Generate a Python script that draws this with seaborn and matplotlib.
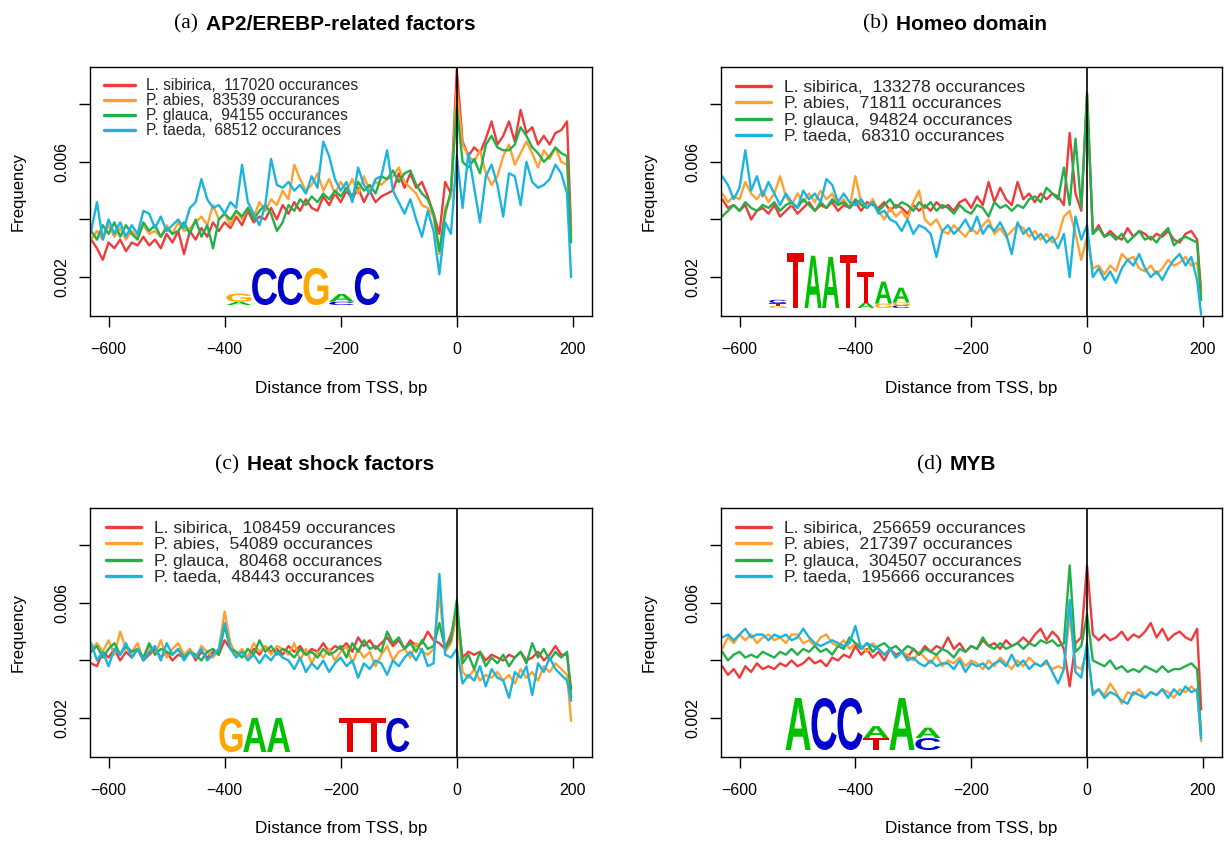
import matplotlib
matplotlib.use("Agg")
import numpy as np
import pandas as pd
import seaborn as sns
import matplotlib.pyplot as plt
from matplotlib.lines import Line2D
from matplotlib.textpath import TextPath
from matplotlib.font_manager import FontProperties
from matplotlib.patches import PathPatch
from matplotlib.transforms import Affine2D

# ---------------- data (frequencies in thousandths, i.e. value * 1e-3) ----------------
POS = [-630, -620, -610, -600, -590, -580, -570, -560, -550, -540,
       -530, -520, -510, -500, -490, -480, -470, -460, -450, -440,
       -430, -420, -410, -400, -390, -380, -370, -360, -350, -340,
       -330, -320, -310, -300, -290, -280, -270, -260, -250, -240,
       -230, -220, -210, -200, -190, -180, -170, -160, -150, -140,
       -130, -120, -110, -100, -90, -80, -70, -60, -50, -40,
       -30, -20, -10, 0, 10, 20, 30, 40, 50, 60,
       70, 80, 90, 100, 110, 120, 130, 140, 150, 160,
       170, 180, 190, 197]

SPECIES = ["L. sibirica", "P. abies", "P. glauca", "P. taeda"]

# (a) AP2/EREBP-related factors
A_LS = [3.3, 3.0, 2.6, 3.2, 3.0, 3.3, 2.9, 3.2, 3.1, 3.4,
        3.1, 3.3, 3.0, 3.5, 3.2, 3.6, 2.8, 3.6, 3.3, 3.7,
        3.4, 3.9, 3.6, 3.9, 3.7, 4.1, 3.8, 4.3, 3.9, 4.1,
        4.0, 4.4, 4.0, 4.5, 4.2, 4.6, 4.3, 4.7, 4.4, 4.3,
        4.8, 4.5, 4.9, 4.6, 5.0, 4.7, 5.1, 4.6, 5.0, 4.6,
        4.8, 4.9, 5.0, 5.6, 5.1, 5.6, 5.1, 5.3, 4.8, 4.2,
        3.5, 5.3, 4.9, 9.2, 6.7, 6.2, 6.5, 6.3, 6.8, 7.4,
        6.6, 6.9, 7.4, 6.7, 7.8, 7.0, 7.2, 6.6, 6.9, 6.6,
        7.0, 7.1, 7.4, 3.6]
A_PA = [3.3, 3.6, 3.3, 3.8, 3.4, 3.7, 3.3, 3.6, 3.4, 3.8,
        3.5, 3.6, 3.4, 3.8, 3.5, 3.9, 3.6, 3.7, 3.9, 4.1,
        3.8, 4.5, 4.0, 4.2, 3.8, 4.3, 4.0, 4.4, 4.1, 4.6,
        4.3, 4.7, 4.5, 5.0, 4.7, 5.9, 5.4, 5.0, 5.2, 5.6,
        5.0, 5.4, 4.9, 5.3, 5.0, 5.4, 4.9, 5.5, 5.0, 5.3,
        5.2, 5.4, 5.5, 5.8, 5.3, 5.1, 4.9, 4.5, 4.4, 4.1,
        2.8, 4.4, 4.8, 8.5, 6.6, 6.2, 6.0, 6.4, 5.6, 5.2,
        5.5, 6.2, 6.6, 5.9, 6.3, 6.7, 6.3, 5.8, 6.4, 6.1,
        6.5, 6.0, 5.9, 3.4]
A_PG = [3.6, 3.3, 3.8, 3.5, 3.9, 3.4, 3.8, 3.5, 3.3, 3.9,
        3.6, 3.8, 3.4, 3.7, 3.5, 3.6, 3.9, 3.5, 4.0, 3.4,
        3.8, 3.0, 4.0, 4.2, 4.0, 4.3, 4.1, 4.4, 4.0, 4.3,
        4.5, 4.2, 3.6, 3.9, 4.5, 4.3, 4.7, 4.5, 4.8, 4.6,
        4.9, 4.7, 5.0, 4.8, 5.1, 4.8, 5.3, 5.0, 5.2, 4.9,
        5.5, 5.4, 5.7, 5.3, 5.6, 5.7, 5.2, 4.9, 4.7, 4.2,
        2.9, 4.2, 5.0, 7.9, 6.0, 5.8, 6.1, 5.6, 6.6, 6.9,
        6.5, 6.4, 6.4, 6.6, 7.2, 6.9, 6.5, 6.3, 6.0, 6.2,
        6.5, 6.3, 6.2, 3.2]
A_PT = [3.6, 4.6, 3.3, 4.0, 3.5, 3.9, 3.4, 3.8, 3.5, 4.3,
        4.2, 3.7, 4.1, 3.6, 3.8, 4.0, 3.7, 4.4, 4.6, 5.4,
        4.7, 4.4, 4.5, 4.2, 4.6, 4.4, 5.9, 4.6, 4.2, 3.8,
        4.5, 6.1, 5.2, 5.1, 5.3, 5.0, 5.2, 4.9, 5.5, 5.1,
        6.7, 6.2, 5.4, 5.0, 5.3, 4.6, 5.8, 5.2, 4.9, 5.4,
        5.5, 6.4, 5.0, 4.6, 4.2, 4.7, 4.0, 3.4, 4.3, 3.6,
        2.1, 3.9, 3.5, 6.2, 4.4, 6.3, 5.1, 3.9, 5.5, 5.9,
        5.2, 4.1, 5.6, 5.5, 4.5, 6.0, 5.3, 5.1, 5.2, 5.4,
        5.9, 5.6, 4.9, 2.0]

# (b) Homeo domain
B_LS = [4.7, 4.4, 4.5, 4.3, 4.5, 4.0, 4.3, 4.4, 4.2, 4.5,
        4.1, 4.3, 4.5, 4.2, 4.4, 4.6, 4.3, 4.5, 4.4, 4.6,
        4.3, 4.5, 4.4, 4.6, 4.3, 4.6, 4.5, 4.4, 4.6, 4.3,
        4.5, 4.4, 4.2, 4.5, 4.3, 4.5, 4.3, 4.6, 4.4, 4.5,
        4.3, 4.6, 4.7, 4.4, 4.8, 4.5, 5.3, 4.6, 5.1, 4.7,
        4.5, 5.3, 4.7, 4.9, 4.6, 4.9, 4.7, 4.9, 4.8, 4.5,
        7.0, 4.9, 4.3, 8.4, 3.5, 3.8, 3.4, 3.6, 3.4, 3.3,
        3.7, 3.4, 3.6, 3.5, 3.3, 3.5, 3.4, 3.6, 3.3, 3.2,
        3.5, 3.6, 3.3, 1.5]
B_PA = [4.9, 4.6, 4.8, 4.7, 5.3, 4.9, 4.7, 5.0, 4.6, 4.9,
        5.5, 4.8, 4.5, 4.9, 4.6, 4.9, 4.6, 5.0, 4.7, 4.9,
        4.5, 4.7, 4.4, 5.5, 4.6, 4.4, 4.7, 4.3, 4.0, 4.4,
        4.1, 4.3, 4.0, 4.6, 5.0, 4.0, 3.8, 4.0, 3.6, 3.5,
        3.8, 3.6, 3.4, 3.7, 3.5, 3.8, 4.0, 3.5, 3.7, 3.4,
        3.6, 3.8, 3.7, 3.4, 3.6, 3.3, 3.5, 3.2, 3.4, 4.1,
        4.3, 3.5, 2.6, 3.4, 2.3, 2.4, 2.1, 2.4, 2.2, 2.8,
        2.6, 2.7, 2.3, 2.2, 2.4, 2.1, 2.3, 2.6, 2.4, 2.5,
        2.7, 2.4, 2.5, 1.4]
B_PG = [4.1, 4.3, 4.5, 4.3, 4.6, 4.4, 4.3, 4.5, 4.4, 4.6,
        4.3, 4.5, 4.6, 4.4, 4.7, 4.5, 4.3, 4.6, 4.4, 4.7,
        4.5, 4.6, 4.4, 4.7, 4.5, 4.4, 4.6, 4.3, 4.5, 4.7,
        4.4, 4.6, 4.5, 4.3, 4.6, 4.4, 4.6, 4.3, 4.5, 4.4,
        4.2, 4.5, 4.3, 4.2, 4.5, 4.4, 4.1, 4.6, 4.4, 4.5,
        4.3, 4.5, 4.4, 4.7, 4.8, 4.6, 5.1, 4.9, 4.7, 5.8,
        4.5, 6.8, 4.4, 8.3, 3.5, 3.7, 3.4, 3.5, 3.3, 3.5,
        3.2, 3.4, 3.6, 3.3, 3.4, 3.2, 3.5, 3.7, 3.1, 3.3,
        3.4, 3.3, 3.2, 1.2]
B_PT = [5.5, 5.2, 4.7, 5.1, 6.4, 5.0, 5.5, 4.8, 5.3, 4.9,
        4.5, 4.9, 4.6, 4.4, 5.0, 4.7, 4.9, 4.6, 5.4, 5.2,
        4.6, 4.9, 4.6, 4.5, 4.7, 4.4, 4.6, 4.2, 4.3, 4.0,
        3.9, 3.6, 4.0, 3.5, 3.8, 3.7, 3.5, 2.7, 3.6, 3.8,
        3.5, 3.7, 4.0, 3.6, 4.1, 3.5, 3.8, 3.6, 3.9, 3.5,
        2.8, 3.9, 3.5, 3.7, 3.3, 3.5, 3.2, 3.4, 3.0, 3.5,
        2.0, 4.1, 3.3, 3.8, 2.0, 2.3, 1.9, 2.2, 1.8, 2.3,
        2.6, 2.4, 2.8, 2.3, 2.0, 2.2, 1.9, 2.3, 2.6, 2.8,
        2.4, 2.7, 1.9, 0.7]

# (c) Heat shock factors
C_LS = [3.9, 3.8, 4.3, 4.1, 4.4, 4.0, 4.3, 4.1, 4.4, 4.0,
        4.2, 4.4, 4.1, 4.3, 4.0, 4.2, 4.1, 4.4, 4.0, 4.3,
        4.1, 4.3, 4.2, 4.7, 4.4, 4.2, 4.3, 4.1, 4.4, 4.2,
        4.5, 4.3, 4.4, 4.2, 4.5, 4.3, 4.5, 4.2, 4.4, 4.3,
        4.6, 4.3, 4.5, 4.4, 4.6, 4.3, 4.8, 4.5, 4.7, 4.4,
        4.6, 4.8, 4.5, 4.7, 4.4, 4.7, 4.5, 4.6, 5.0, 4.7,
        4.6, 4.4, 4.9, 5.7, 4.1, 4.3, 4.2, 4.3, 4.0, 4.2,
        4.1, 4.0, 4.2, 4.1, 4.3, 4.0, 4.1, 4.3, 4.0, 4.2,
        4.5, 4.2, 4.2, 3.0]
C_PA = [4.4, 4.6, 4.3, 4.7, 4.2, 5.0, 4.4, 4.3, 4.6, 4.0,
        4.5, 4.2, 4.7, 4.1, 4.4, 4.6, 4.2, 4.4, 4.1, 4.5,
        4.3, 4.1, 4.4, 5.7, 4.6, 4.2, 4.4, 4.1, 4.6, 4.3,
        4.5, 4.2, 4.5, 4.4, 4.2, 4.6, 4.0, 4.4, 3.9, 4.3,
        4.1, 4.4, 4.0, 4.3, 4.5, 3.9, 4.4, 4.1, 4.3, 3.8,
        4.2, 4.5, 4.0, 4.3, 4.4, 4.1, 4.6, 4.3, 4.2, 4.4,
        6.3, 4.3, 4.6, 5.6, 3.6, 3.4, 3.7, 3.3, 3.5, 3.4,
        3.6, 3.3, 3.5, 3.2, 3.7, 3.4, 3.6, 3.3, 3.8, 3.6,
        3.9, 3.7, 3.5, 1.9]
C_PG = [4.3, 4.5, 4.1, 4.4, 4.6, 4.2, 4.5, 4.3, 4.4, 4.1,
        4.6, 4.2, 4.4, 4.3, 4.2, 4.4, 4.1, 4.3, 4.2, 4.0,
        4.3, 4.4, 4.2, 5.2, 4.4, 4.3, 4.1, 4.4, 4.2, 4.7,
        4.3, 4.5, 4.2, 4.4, 4.3, 4.1, 4.4, 4.2, 4.3, 4.1,
        4.4, 4.2, 4.3, 4.5, 4.1, 4.6, 4.3, 4.7, 4.4, 4.5,
        4.3, 5.0, 4.6, 4.8, 4.4, 4.6, 4.3, 4.7, 4.4, 4.5,
        5.3, 4.4, 4.7, 6.1, 3.9, 4.2, 3.7, 4.3, 3.8, 4.1,
        3.9, 4.2, 3.8, 4.1, 4.3, 3.9, 4.6, 4.1, 4.4, 4.0,
        4.3, 4.1, 4.3, 2.7]
C_PT = [4.6, 4.0, 4.3, 3.8, 4.4, 4.2, 4.6, 4.1, 4.4, 4.0,
        4.3, 4.5, 4.0, 4.6, 4.2, 4.4, 4.0, 4.3, 4.1, 4.4,
        4.0, 4.2, 4.4, 5.3, 4.4, 4.1, 4.3, 4.0, 4.2, 3.9,
        4.2, 4.0, 4.3, 4.1, 4.0, 3.7, 4.1, 3.6, 3.9, 3.7,
        4.0, 3.6, 3.9, 4.1, 3.8, 4.0, 3.4, 3.9, 3.7, 4.0,
        3.9, 3.5, 4.0, 3.8, 4.1, 4.3, 4.0, 4.4, 3.8, 3.9,
        7.0, 4.2, 4.1, 4.4, 3.2, 3.5, 3.3, 3.8, 3.1, 3.7,
        3.4, 3.3, 2.7, 3.6, 3.4, 3.8, 2.8, 3.9, 3.6, 4.1,
        3.7, 3.5, 3.3, 2.6]

# (d) MYB
D_LS = [3.8, 3.5, 3.7, 3.4, 3.8, 3.6, 3.9, 3.7, 3.8, 3.7,
        3.9, 3.8, 4.0, 3.8, 3.9, 4.1, 3.9, 4.0, 3.8, 4.1,
        4.0, 4.2, 4.1, 4.5, 4.2, 4.4, 4.1, 4.3, 4.0, 4.4,
        4.2, 4.3, 4.1, 4.4, 4.2, 4.5, 4.3, 4.5, 4.4, 4.8,
        4.4, 4.6, 4.3, 4.5, 4.4, 4.7, 4.5, 4.6, 4.4, 4.7,
        4.5, 4.6, 4.8, 4.6, 4.9, 5.1, 4.7, 5.0, 4.8, 4.4,
        3.1, 4.6, 4.8, 7.3, 4.9, 4.7, 4.9, 4.7, 4.8, 5.0,
        4.7, 4.9, 4.8, 5.0, 5.3, 4.8, 5.1, 4.7, 4.9, 5.0,
        4.8, 4.7, 5.1, 2.3]
D_PA = [4.4, 4.8, 4.6, 4.9, 4.7, 4.9, 4.6, 4.8, 4.9, 4.7,
        4.8, 4.6, 4.9, 4.9, 4.6, 4.7, 4.5, 4.8, 4.9, 4.6,
        4.5, 4.7, 4.4, 4.6, 4.5, 4.3, 4.6, 4.4, 4.2, 4.4,
        4.1, 4.3, 4.2, 4.0, 4.3, 4.1, 3.9, 4.2, 3.8, 4.0,
        3.9, 4.1, 3.8, 4.0, 3.9, 3.7, 4.0, 3.8, 4.1, 3.9,
        3.7, 4.0, 3.8, 4.1, 3.9, 3.8, 3.9, 3.7, 3.8, 3.7,
        5.6, 3.8, 3.7, 4.3, 2.9, 3.0, 2.8, 3.2, 2.9, 2.5,
        2.9, 2.8, 3.0, 2.7, 2.9, 2.8, 3.0, 2.9, 2.7, 3.0,
        2.9, 3.1, 2.9, 1.2]
D_PG = [4.3, 4.0, 4.2, 4.3, 4.1, 4.2, 4.1, 4.3, 4.2, 4.1,
        4.3, 4.2, 4.4, 4.2, 4.4, 4.3, 4.5, 4.3, 4.4, 4.2,
        4.5, 4.4, 4.8, 4.6, 4.4, 4.6, 4.3, 4.5, 4.6, 4.4,
        4.5, 4.3, 4.5, 4.4, 4.2, 4.4, 4.3, 4.2, 4.4, 4.3,
        4.1, 4.4, 4.3, 4.5, 4.4, 4.8, 4.5, 4.4, 4.6, 4.4,
        4.5, 4.6, 4.4, 4.6, 4.5, 4.7, 4.6, 4.7, 4.5, 4.6,
        7.3, 4.3, 4.5, 5.6, 4.0, 3.9, 3.8, 4.0, 3.7, 3.8,
        3.6, 3.7, 3.6, 3.8, 3.7, 3.6, 3.8, 3.6, 3.7, 3.7,
        3.8, 3.9, 3.7, 1.4]
D_PT = [4.8, 4.9, 4.7, 4.9, 5.1, 4.8, 4.9, 4.9, 4.7, 4.9,
        4.8, 4.9, 4.7, 4.8, 5.1, 4.8, 4.6, 4.5, 4.6, 4.7,
        4.6, 4.5, 4.6, 5.2, 4.4, 4.6, 4.5, 4.4, 4.2, 4.4,
        4.1, 4.3, 4.0, 4.1, 3.9, 3.8, 4.0, 3.8, 3.9, 3.9,
        3.7, 4.0, 3.6, 3.9, 3.8, 3.9, 3.7, 3.9, 4.0, 3.8,
        4.2, 3.8, 4.0, 3.7, 3.9, 3.8, 4.0, 3.6, 3.2, 3.7,
        6.1, 3.6, 3.4, 4.6, 2.8, 3.0, 2.7, 2.9, 2.8, 2.6,
        2.5, 2.9, 2.8, 2.7, 2.9, 2.8, 3.0, 2.7, 3.0, 2.8,
        3.1, 2.9, 3.0, 1.3]

COUNTS_A = [117020, 83539, 94155, 68512]
COUNTS_B = [133278, 71811, 94824, 68310]
COUNTS_C = [108459, 54089, 80468, 48443]
COUNTS_D = [256659, 217397, 304507, 195666]

PANEL_TAGS = ["(a)", "(b)", "(c)", "(d)"]
PANEL_TITLES = ["AP2/EREBP-related factors", "Homeo domain", "Heat shock factors", "MYB"]

X_TICKS = [-600, -400, -200, 0, 200]
X_TICK_LABELS = ["\u2212600", "\u2212400", "\u2212200", "0", "200"]
Y_TICKS = [0.002, 0.004, 0.006, 0.008]
Y_TICK_LABELS = ["0.002", "", "0.006", ""]

# sequence-logo letters (bottom -> top per column) and relative heights
LOGO_A_LETTERS = [["A", "G"], ["C"], ["C"], ["G"], ["C", "A"], ["C"]]
LOGO_A_HEIGHTS = [[0.09, 0.22], [1.0], [1.0], [1.0], [0.09, 0.21], [1.0]]
LOGO_B_LETTERS = [["G", "T", "C"], ["T"], ["A"], ["A"], ["T"], ["A", "T"], ["G", "A"], ["C", "G", "A"]]
LOGO_B_HEIGHTS = [[0.04, 0.05, 0.06], [1.0], [0.95], [0.93], [0.97], [0.1, 0.55], [0.08, 0.40], [0.05, 0.05, 0.27]]
LOGO_C_LETTERS = [["G"], ["A"], ["A"], [], [], ["T"], ["T"], ["C"]]
LOGO_C_HEIGHTS = [[1.0], [1.0], [1.0], [], [], [1.0], [1.0], [1.0]]
LOGO_D_LETTERS = [["A"], ["C"], ["C"], ["T", "A"], ["A"], ["C", "A"]]
LOGO_D_HEIGHTS = [[1.0], [1.0], [1.0], [0.23, 0.23], [1.0], [0.23, 0.20]]

# ---------------- styling ----------------
LINE_COLORS = ["#EE3B3B", "#FFA033", "#22B04A", "#1CB4DC"]
BASE_COLORS = {"A": "#00C000", "C": "#0000CC", "G": "#FFA500", "T": "#E60000"}

sns.set_theme(style="white")
plt.rcParams["font.family"] = ["Liberation Sans", "DejaVu Sans"]
plt.rcParams["axes.unicode_minus"] = True

W, H = 1226, 841
fig = plt.figure(figsize=(W / 100, H / 100), dpi=100)
fig.patch.set_facecolor("white")

LOGO_FONT = FontProperties(family="Liberation Sans", weight="bold")


def draw_logo(ax, rect, letters, heights):
    x0, y0, x1, y1 = rect
    n = len(letters)
    cw = (x1 - x0) / n
    for i, (col_l, col_h) in enumerate(zip(letters, heights)):
        yb = y0
        for ch, h in zip(col_l, col_h):
            hh = h * (y1 - y0)
            tp = TextPath((0, 0), ch, size=1, prop=LOGO_FONT)
            bb = tp.get_extents()
            tr = (Affine2D().translate(-bb.x0, -bb.y0)
                  .scale(cw * 0.97 / bb.width, hh / bb.height)
                  .translate(x0 + i * cw + cw * 0.015, yb))
            ax.add_patch(PathPatch(tr.transform_path(tp), facecolor=BASE_COLORS[ch],
                                   edgecolor="none", transform=ax.transAxes, zorder=1))
            yb += hh


def panel(box, series, counts, tag, title, legend_fs, legend_sp, legend_anchor, title_xy, logo):
    l, t, r, b = box
    ax = fig.add_axes([l / W, 1 - b / H, (r - l) / W, (b - t) / H])
    rows = []
    for sp, vals in zip(SPECIES, series):
        for p, v in zip(POS, vals):
            rows.append((p, v / 1000.0, sp))
    df = pd.DataFrame(rows, columns=["pos", "freq", "species"])
    sns.lineplot(data=df, x="pos", y="freq", hue="species", hue_order=SPECIES,
                 palette=dict(zip(SPECIES, LINE_COLORS)), linewidth=1.7,
                 estimator=None, sort=False, legend=False, ax=ax, zorder=2)
    ax.axvline(0, color="black", lw=1.2, zorder=3)
    ax.set_xlim(-632, 233)
    ax.set_ylim(0.00065, 0.00929)
    ax.set_xticks(X_TICKS)
    ax.set_xticklabels(X_TICK_LABELS)
    ax.set_yticks(Y_TICKS)
    ax.set_yticklabels(Y_TICK_LABELS, rotation=90, va="center")
    ax.tick_params(axis="both", which="major", bottom=True, left=True, direction="out",
                   length=8, width=1, color="black", labelcolor="black", labelsize=11.5)
    ax.tick_params(axis="x", pad=11)
    ax.tick_params(axis="y", pad=7)
    for s in ax.spines.values():
        s.set_color("black")
        s.set_linewidth(1.0)
    ax.set_xlabel("")
    ax.set_ylabel("")
    handles = [Line2D([0], [0], color=c, lw=2.4) for c in LINE_COLORS]
    labels = [f"{sp},  {n} occurances" for sp, n in zip(SPECIES, counts)]
    ax.legend(handles, labels, loc="upper left", bbox_to_anchor=legend_anchor,
              frameon=False, fontsize=legend_fs, handlelength=2.0, handletextpad=0.75,
              labelspacing=legend_sp, borderaxespad=0, borderpad=0)
    draw_logo(ax, *logo)
    # axis labels
    cx = (l + r) / 2
    fig.text(cx / W, 1 - (b + 72) / H, "Distance from TSS, bp", ha="center", va="center",
             fontsize=12.3, color="black")
    fig.text((l - 72) / W, 1 - ((t + b) / 2) / H, "Frequency", rotation=90, ha="center",
             va="center", fontsize=12, color="black")
    # title
    tx, ty = title_xy
    fig.text((tx - 8) / W, 1 - ty / H, tag, ha="right", va="center", fontsize=15.5,
             family=["Liberation Serif", "DejaVu Serif"], color="black")
    fig.text(tx / W, 1 - ty / H, title, ha="left", va="center", fontsize=15,
             fontweight="bold", color="black")
    return ax


panel((90, 67, 592, 316), [A_LS, A_PA, A_PG, A_PT], COUNTS_A, PANEL_TAGS[0], PANEL_TITLES[0],
      11.2, 0.0, (0.027, 0.955), (206, 24),
      ((0.271, 0.044, 0.578, 0.193), LOGO_A_LETTERS, LOGO_A_HEIGHTS))
panel((721, 67, 1222, 316), [B_LS, B_PA, B_PG, B_PT], COUNTS_B, PANEL_TAGS[1], PANEL_TITLES[1],
      12.6, 0.07, (0.030, 0.949), (896, 24),
      ((0.096, 0.032, 0.377, 0.253), LOGO_B_LETTERS, LOGO_B_HEIGHTS))
panel((90, 508, 592, 757), [C_LS, C_PA, C_PG, C_PT], COUNTS_C, PANEL_TAGS[2], PANEL_TITLES[2],
      12.6, 0.07, (0.031, 0.949), (247, 465),
      ((0.257, 0.020, 0.637, 0.157), LOGO_C_LETTERS, LOGO_C_HEIGHTS))
panel((721, 508, 1222, 757), [D_LS, D_PA, D_PG, D_PT], COUNTS_D, PANEL_TAGS[3], PANEL_TITLES[3],
      12.6, 0.07, (0.030, 0.949), (950, 465),
      ((0.128, 0.028, 0.439, 0.237), LOGO_D_LETTERS, LOGO_D_HEIGHTS))

fig.savefig("out.png", dpi=100, facecolor="white")
